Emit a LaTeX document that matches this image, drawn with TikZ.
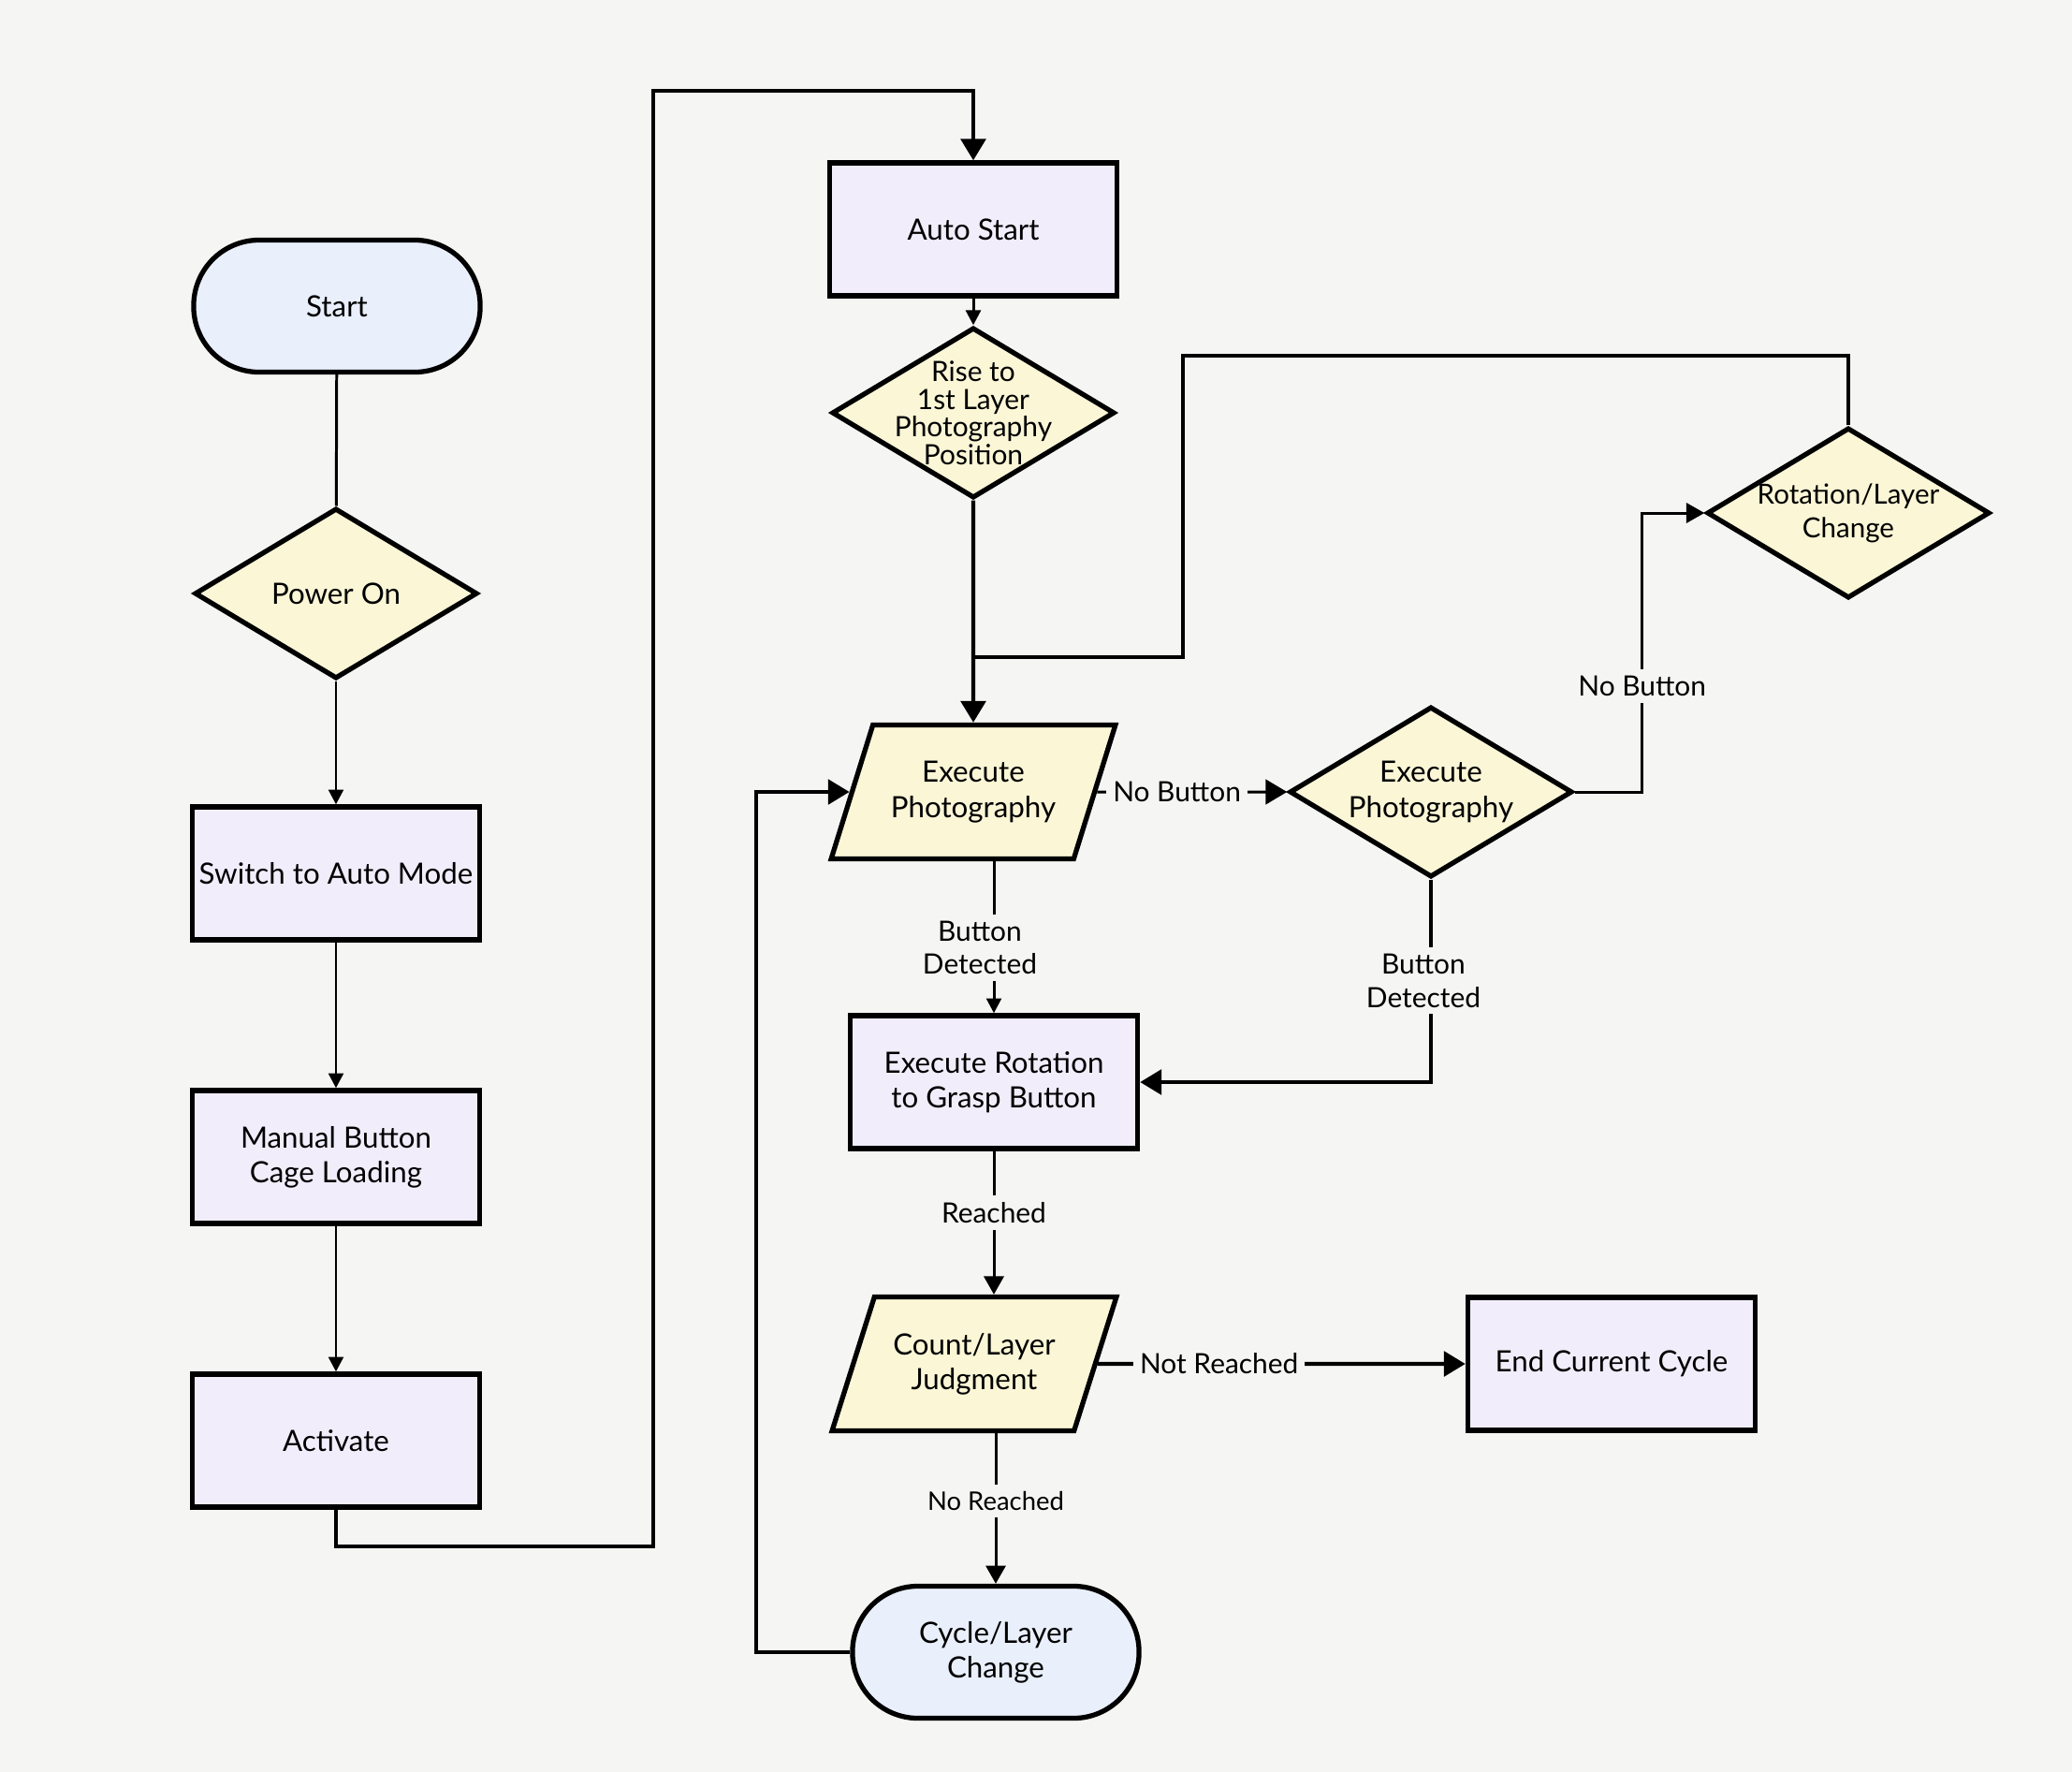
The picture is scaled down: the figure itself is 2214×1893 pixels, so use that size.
\documentclass[tikz,border=0pt]{standalone}
\usepackage{fontspec}
\setmainfont{Lato}
\usetikzlibrary{shapes.geometric,arrows.meta}

\definecolor{bgGray}{HTML}{F5F5F4}
\definecolor{procFill}{HTML}{F1EDFB}
\definecolor{decFill}{HTML}{FAF6D6}
\definecolor{termFill}{HTML}{E9EFFB}

\tikzset{
  base/.style={draw, line width=1.5pt, align=center, font=\fontsize{8.9}{10.6}\selectfont},
  proc/.style={base, rectangle, fill=procFill, inner xsep=2pt, minimum width=3.07cm, minimum height=1.42cm},
  term/.style={base, rectangle, rounded corners=0.7cm, fill=termFill, minimum width=3.06cm, minimum height=1.41cm},
  dec/.style={base, diamond, fill=decFill, aspect=1.67, inner sep=-6pt, minimum width=3.02cm, minimum height=1.82cm},
  io/.style={base, trapezium, trapezium left angle=65, trapezium right angle=115, trapezium stretches=true, fill=decFill, minimum width=3.05cm, minimum height=1.43cm},
  lbl/.style={fill=bgGray, inner sep=2pt, align=center, font=\fontsize{8.5}{10}\selectfont},
  conn/.style={line width=0.85pt},
  bold/.style={line width=1.25pt},
  arrs/.style={-{Triangle[length=4.5pt,width=4.5pt]}},
  arrm/.style={-{Triangle[length=5.5pt,width=6pt]}},
  arrb/.style={-{Triangle[length=6.5pt,width=7.5pt]}}
}

\begin{document}
\begin{tikzpicture}[x=0.01cm, y=-0.01cm]
  \useasboundingbox (0,0) rectangle (2214,1893);
  \fill[bgGray] (0,0) rectangle (2214,1893);

  % left column
  \node[term] (start)    at (360,327)  {Start};
  \node[dec]  (power)    at (359,634)  {Power On};
  \node[proc] (switch)   at (359,933)  {Switch to Auto Mode};
  \node[proc] (manual)   at (359,1236) {Manual Button\\Cage Loading};
  \node[proc] (activate) at (359,1539) {Activate};

  % middle column
  \node[proc] (auto)    at (1040,245)  {Auto Start};
  \node[dec, font=\fontsize{8.5}{8.4}\selectfont] (rise) at (1040,441) {Rise to\\1st Layer\\Photography\\Position};
  \node[io]   (execph)  at (1040,846)  {Execute\\Photography};
  \node[proc] (execrot) at (1062,1156) {Execute Rotation\\to Grasp Button};
  \node[io]   (count)   at (1041,1457) {Count/Layer\\Judgment};
  \node[term] (cyc)     at (1064,1765) {Cycle/Layer\\Change};

  % right side
  \node[dec]  (execd)  at (1529,846)  {Execute\\Photography};
  \node[dec, font=\fontsize{8.4}{10.2}\selectfont] (rotate) at (1975,548) {Rotation/Layer\\Change};
  \node[proc] (endc)   at (1722,1457) {End Current Cycle};

  % connectors
  \draw[conn] (start) -- (power);
  \draw[conn, arrs] (power) -- (switch);
  \draw[conn, arrs] (switch) -- (manual);
  \draw[conn, arrs] (manual) -- (activate);
  \draw[bold, arrb] (activate.south) -- ++(0,39) -| (698,97) -| (auto.north);
  \draw[conn, arrs] (auto) -- (rise);
  \draw[bold, arrb] (rise) -- (execph);
  \draw[bold] (rotate.north) |- (1264,380) |- (1040,702);
  \draw[conn, arrb] (execph.east) -- node[lbl, pos=0.42] {No Button} (execd.west);
  \draw[conn, arrm] (execd.east) -- ++(72,0) |- node[lbl, pos=0.19] {No Button} (rotate.west);
  \draw[conn, arrs] (execrot.north |- execph.south) -- node[lbl, pos=0.57, xshift=-0.15cm] {Button\\Detected} (execrot.north);
  \draw[bold, arrb] (execd.south) |- node[lbl, pos=0.25, xshift=-0.08cm] {Button\\Detected} (execrot.east);
  \draw[conn, arrm] (execrot.south) -- node[lbl, pos=0.43] {Reached} (execrot.south |- count.north);
  \draw[bold, arrb] (count.east) -- node[lbl, pos=0.33] {Not Reached} (endc.west);
  \draw[conn, arrm] (cyc.north |- count.south) -- node[lbl, pos=0.45, font=\fontsize{7.8}{9}\selectfont] {No Reached} (cyc.north);
  \draw[bold, arrb] (cyc.west) -- ++(-100,0) |- (execph.west);
\end{tikzpicture}
\end{document}
